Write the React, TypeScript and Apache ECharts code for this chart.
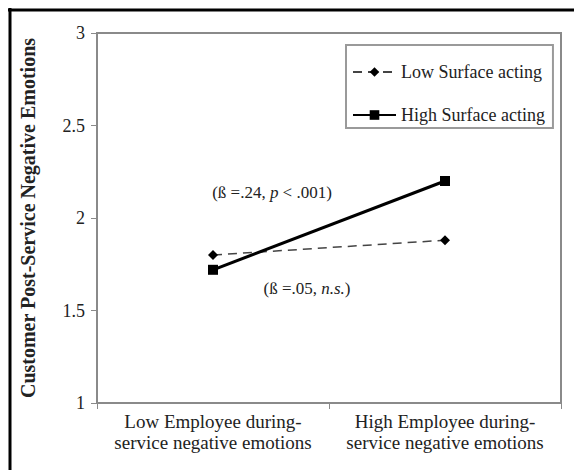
import React, { useEffect, useRef } from "react";
import * as echarts from "echarts";

const categories = [
  "Low Employee during-\nservice negative emotions",
  "High Employee during-\nservice negative emotions",
];
const lowSurfaceActing = [1.8, 1.88];
const highSurfaceActing = [1.72, 2.2];
const yTicks = { min: 1, max: 3, interval: 0.5 };
const seriesNames = ["Low Surface acting", "High Surface acting"];
const yTitle = "Customer Post-Service Negative Emotions";

const FONT = "'Liberation Serif', 'Times New Roman', serif";

export default function App() {
  const ref = useRef<HTMLDivElement>(null);
  useEffect(() => {
    if (!ref.current) return;
    const chart = echarts.init(ref.current, null, { renderer: "svg" });
    chart.setOption({
      animation: false,
      backgroundColor: "#ffffff",
      textStyle: { fontFamily: FONT, color: "#222" },
      grid: {
        left: 97,
        top: 33,
        right: 13,
        bottom: 67,
        show: true,
        borderColor: "#8a8a8a",
        borderWidth: 2,
        backgroundColor: "transparent",
      },
      legend: {
        orient: "vertical",
        left: 346,
        top: 45,
        padding: [18, 8, 4, 6],
        itemGap: 25,
        itemWidth: 43,
        itemHeight: 12,
        borderColor: "#9a9a9a",
        borderWidth: 2,
        textStyle: { fontFamily: FONT, fontSize: 18, color: "#222" },
        data: seriesNames,
      },
      xAxis: {
        type: "category",
        data: categories,
        boundaryGap: true,
        axisLine: { lineStyle: { color: "#8a8a8a", width: 2 } },
        axisTick: { show: true, length: 6, lineStyle: { color: "#8a8a8a", width: 1 } },
        axisLabel: {
          fontFamily: FONT,
          fontSize: 19,
          lineHeight: 21,
          color: "#222",
          margin: 8,
          interval: 0,
        },
      },
      yAxis: {
        type: "value",
        min: yTicks.min,
        max: yTicks.max,
        interval: yTicks.interval,
        name: yTitle,
        nameLocation: "middle",
        nameRotate: 90,
        nameGap: 59,
        nameTextStyle: { fontFamily: FONT, fontSize: 20, fontWeight: "bold", color: "#222" },
        splitLine: { show: false },
        axisLine: { show: true, lineStyle: { color: "#8a8a8a", width: 2 } },
        axisTick: { show: true, length: 6, lineStyle: { color: "#8a8a8a", width: 1 } },
        axisLabel: { fontFamily: FONT, fontSize: 18, color: "#222", margin: 12 },
      },
      series: [
        {
          name: seriesNames[0],
          type: "line",
          data: lowSurfaceActing,
          symbol: "diamond",
          symbolSize: 10,
          lineStyle: { color: "#444", width: 1.5, type: [9, 6] },
          itemStyle: { color: "#000" },
        },
        {
          name: seriesNames[1],
          type: "line",
          data: highSurfaceActing,
          symbol: "rect",
          symbolSize: 10,
          lineStyle: { color: "#000", width: 3 },
          itemStyle: { color: "#000" },
        },
      ],
      graphic: [
        {
          type: "text",
          x: 272,
          y: 192,
          style: {
            text: "{n|(ß =.24, }{i|p}{n| < .001)}",
            align: "center",
            verticalAlign: "middle",
            rich: {
              n: { fontFamily: FONT, fontSize: 17, fill: "#222" },
              i: { fontFamily: FONT, fontSize: 17, fontStyle: "italic", fill: "#222" },
            },
          },
        },
        {
          type: "text",
          x: 307,
          y: 288,
          style: {
            text: "{n|(ß =.05, }{i|n.s.}{n|)}",
            align: "center",
            verticalAlign: "middle",
            rich: {
              n: { fontFamily: FONT, fontSize: 17, fill: "#222" },
              i: { fontFamily: FONT, fontSize: 17, fontStyle: "italic", fill: "#222" },
            },
          },
        },
        {
          type: "line",
          shape: { x1: 8, y1: 10, x2: 574, y2: 10 },
          style: { stroke: "#000", lineWidth: 3 },
        },
        {
          type: "line",
          shape: { x1: 10, y1: 8, x2: 10, y2: 470 },
          style: { stroke: "#000", lineWidth: 3 },
        },
      ],
    });
    return () => chart.dispose();
  }, []);
  return (
    <div
      ref={ref}
      style={{ position: "fixed", left: 0, top: 0, width: 574, height: 470 }}
    />
  );
}
